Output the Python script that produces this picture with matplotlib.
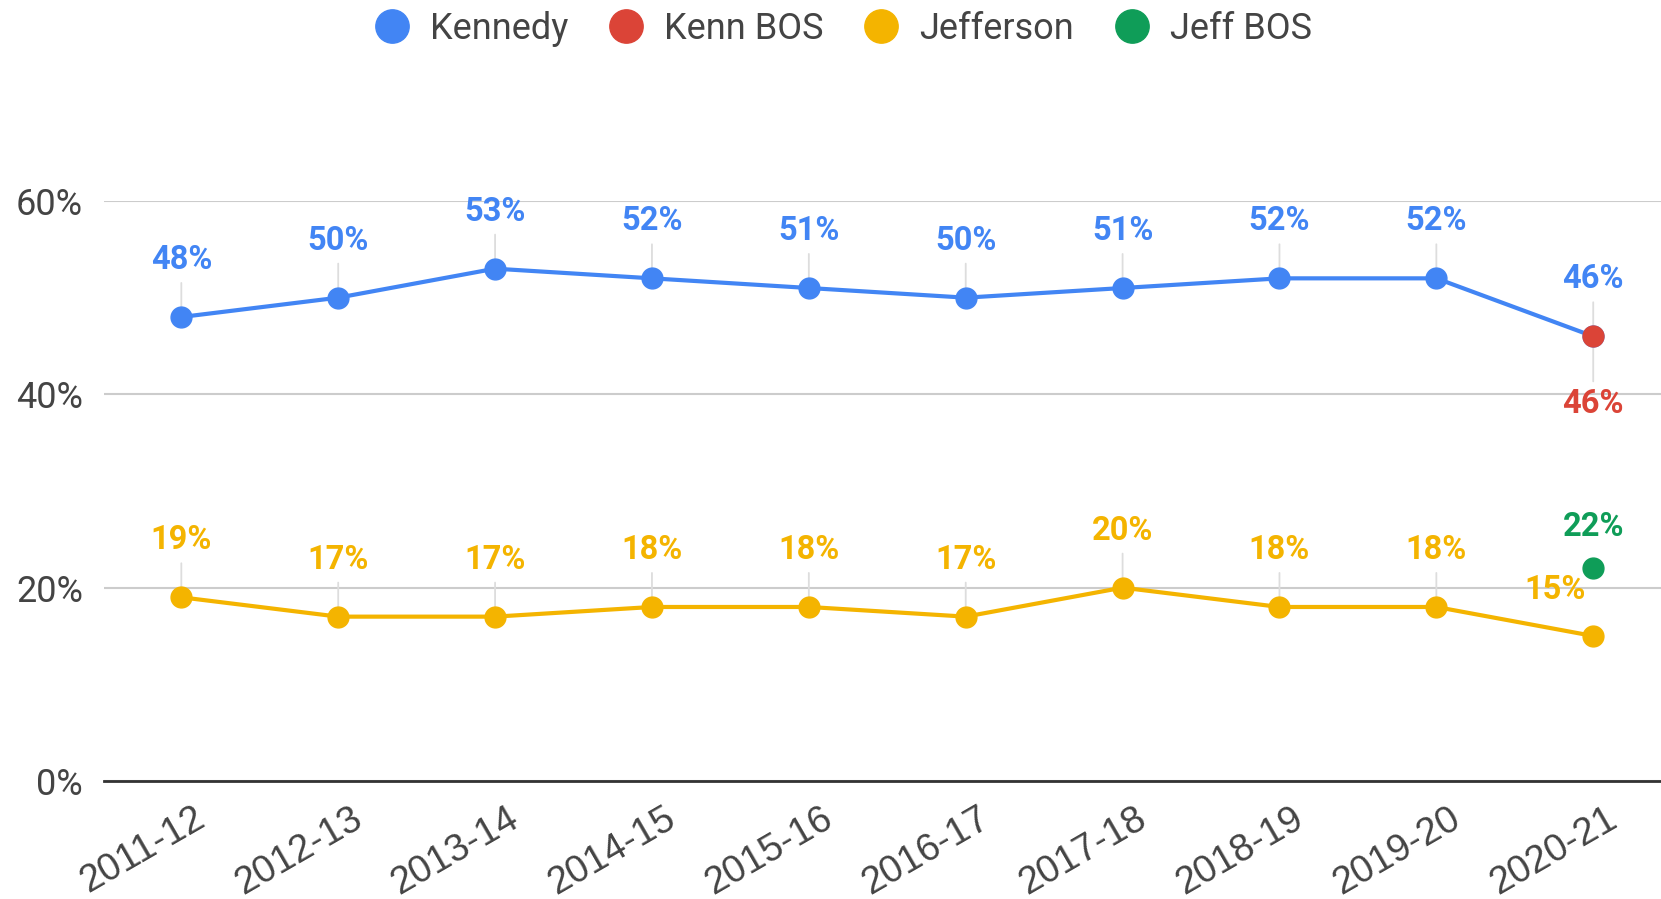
import matplotlib
matplotlib.use("Agg")
import matplotlib.pyplot as plt
from matplotlib.lines import Line2D
from matplotlib.transforms import ScaledTranslation

plt.rcParams['font.family'] = ['Roboto', 'DejaVu Sans']

years = ['2011-12', '2012-13', '2013-14', '2014-15', '2015-16',
         '2016-17', '2017-18', '2018-19', '2019-20', '2020-21']
kennedy = [48, 50, 53, 52, 51, 50, 51, 52, 52, 46]
jefferson = [19, 17, 17, 18, 18, 17, 20, 18, 18, 15]
kenn_bos = [46]      # 2020-21 only
jeff_bos = [22]      # 2020-21 only
y_ticks = [0, 20, 40, 60]

BLUE, RED, YELLOW, GREEN = "#4285F4", "#DB4437", "#F4B400", "#0F9D58"
GRID, TXT, STEM = "#cccccc", "#444444", "#dddddd"

fig = plt.figure(figsize=(16.61, 8.99), dpi=100)
ax = fig.add_axes([0.0626, 0.1313, 0.9374, 0.6451])

x = list(range(len(years)))
ax.plot(x, kennedy, color=BLUE, lw=3, marker='o', ms=15, zorder=4)
ax.plot(x, jefferson, color=YELLOW, lw=3, marker='o', ms=15, zorder=4)
ax.plot(x[-1:], kenn_bos, color=RED, lw=0, marker='o', ms=15, zorder=5)
ax.plot(x[-1:], jeff_bos, color=GREEN, lw=0, marker='o', ms=15, zorder=5)


def label(xi, yi, color, dx=0, dy=57, stem=True):
    kw = {}
    if stem:
        kw['arrowprops'] = dict(arrowstyle='-', color=STEM, lw=1.3,
                                shrinkA=3, shrinkB=0)
    ax.annotate(f"{yi}%", (xi, yi), xytext=(dx, dy), textcoords='offset pixels',
                ha='center', va='center', color=color, fontsize=23.5,
                fontweight='bold', zorder=3, **kw)


for xi, v in zip(x, kennedy):
    label(xi, v, BLUE)
for xi, v in zip(x[:-1], jefferson[:-1]):
    label(xi, v, YELLOW)
label(x[-1], jefferson[-1], YELLOW, dx=-38, dy=46, stem=False)
label(x[-1], kenn_bos[0], RED, dy=-68)
label(x[-1], jeff_bos[0], GREEN, dy=41, stem=False)

ax.set_xlim(-0.493, 9.432)
ax.set_ylim(0, 60)
ax.set_yticks(y_ticks)
ax.set_yticklabels([f"{t}%" for t in y_ticks])
ax.grid(axis='y', color=GRID, lw=1.5)
ax.set_axisbelow(True)
ax.axhline(0, color="#333333", lw=2, zorder=2, clip_on=False)
for s in ax.spines.values():
    s.set_visible(False)
ax.tick_params(axis='y', length=0, pad=15, labelsize=26, labelcolor=TXT)
ax.tick_params(axis='x', length=0, pad=14, labelsize=27.5, labelcolor=TXT)
ax.set_xticks(x)
ax.set_xticklabels(years, rotation=30, ha='right', va='top', rotation_mode='anchor',
                   family=['Liberation Sans', 'DejaVu Sans'])
for lab in ax.get_xticklabels():
    lab.set_transform(lab.get_transform() + ScaledTranslation(0.12, 0, fig.dpi_scale_trans))

handles = [Line2D([], [], lw=0, marker='o', ms=24, color=c) for c in (BLUE, RED, YELLOW, GREEN)]
leg = fig.legend(handles, ['Kennedy', 'Kenn BOS', 'Jefferson', 'Jeff BOS'],
                 loc='center', bbox_to_anchor=(0.508, 0.968), ncol=4, frameon=False,
                 fontsize=26, handlelength=0.9, handletextpad=0.6, columnspacing=1.15,
                 borderaxespad=0)
for t in leg.get_texts():
    t.set_color(TXT)

fig.savefig("out.png", dpi=100)
